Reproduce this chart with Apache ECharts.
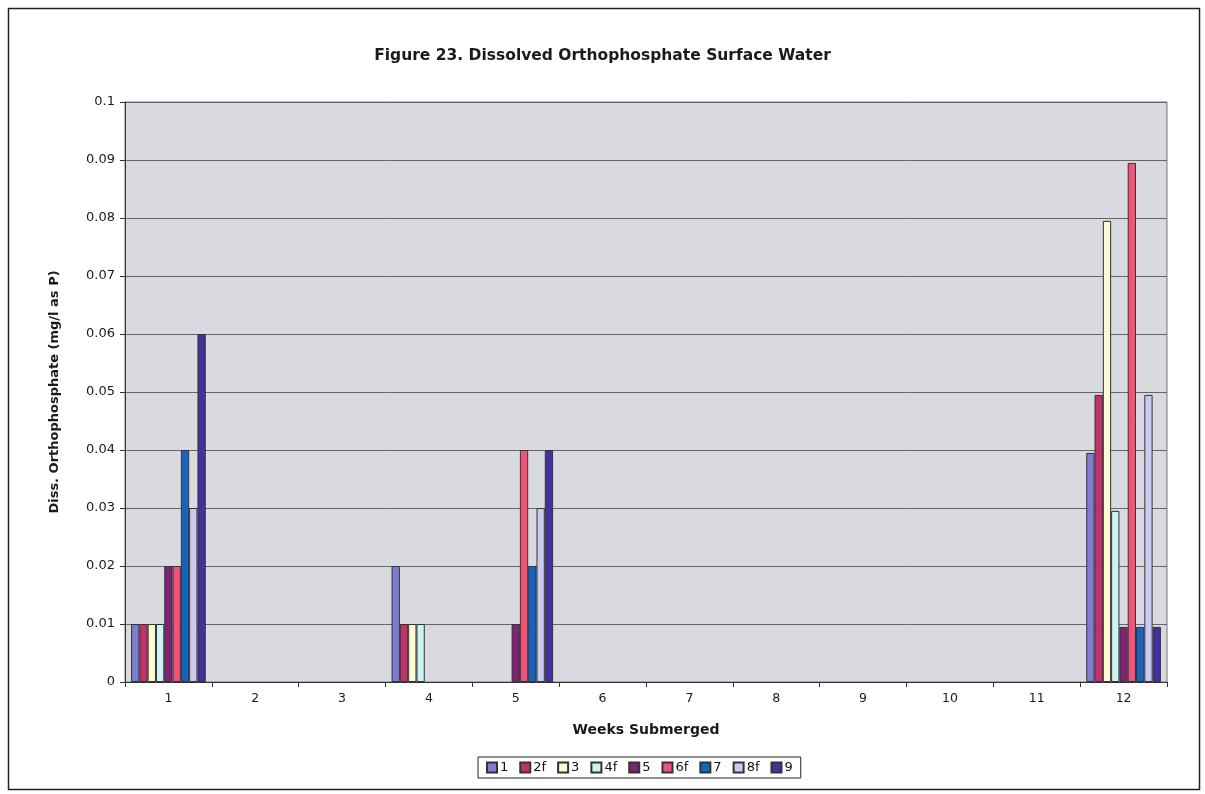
<!DOCTYPE html>
<html><head><meta charset="utf-8">
<script src="https://cdn.jsdelivr.net/npm/echarts@6/dist/echarts.min.js"></script>
<style>html,body{margin:0;padding:0;background:#fff}#c{width:1205px;height:794px}</style>
</head><body><div id="c"></div>
<script>
const weeks = ['1','2','3','4','5','6','7','8','9','10','11','12'];
const seriesNames = ['1','2f','3','4f','5','6f','7','8f','9'];
const s1  = [0.01, null, null, 0.02, null, null, null, null, null, null, null, 0.0395];
const s2f = [0.01, null, null, 0.01, null, null, null, null, null, null, null, 0.0495];
const s3  = [0.01, null, null, 0.01, null, null, null, null, null, null, null, 0.0795];
const s4f = [0.01, null, null, 0.01, null, null, null, null, null, null, null, 0.0295];
const s5  = [0.02, null, null, null, 0.01, null, null, null, null, null, null, 0.0095];
const s6f = [0.02, null, null, null, 0.04, null, null, null, null, null, null, 0.0895];
const s7  = [0.04, null, null, null, 0.02, null, null, null, null, null, null, 0.0095];
const s8f = [0.03, null, null, null, 0.03, null, null, null, null, null, null, 0.0495];
const s9  = [0.06, null, null, null, 0.04, null, null, null, null, null, null, 0.0095];
const allData = [s1, s2f, s3, s4f, s5, s6f, s7, s8f, s9];
const colors = ['#7c7ed4','#c4306c','#fdfbd2','#cdf3f3','#7e2474','#f25278','#1464c0','#cacaf2','#4232a0'];

const FONT = 'DejaVu Sans, Liberation Sans, Arial, sans-serif';
const chart = echarts.init(document.getElementById('c'));
chart.setOption({
  animation: false,
  textStyle: {fontFamily: FONT},
  graphic: [{type:'rect', shape:{x:8.5,y:8.5,width:1191,height:781}, style:{fill:'none', stroke:'#222', lineWidth:1.5}, silent:true, z:-1}],
  title: {text: 'Figure 23. Dissolved Orthophosphate Surface Water', left: 'center', top: 43,
    textStyle: {fontSize: 15.5, fontWeight: 'bold', color: '#1a1a1a', fontFamily: FONT}},
  legend: {data: seriesNames, bottom: 16, left: 478, icon: 'rect', itemWidth: 10, itemHeight: 10, itemGap: 11,
    backgroundColor: '#fff', borderColor: '#222', borderWidth: 1, padding: [4, 8],
    textStyle: {fontSize: 13, color: '#111', padding: [0,0,0,-2], fontFamily: FONT}},
  grid: {left: 125, right: 38, top: 102, bottom: 112, show: true, backgroundColor: '#d9dadf', borderColor: '#777', borderWidth: 1},
  xAxis: {type: 'category', data: weeks, name: 'Weeks Submerged', nameLocation: 'middle', nameGap: 41,
    nameTextStyle: {fontSize: 14, fontWeight: 'bold', color: '#1a1a1a', fontFamily: FONT},
    axisLine: {lineStyle: {color: '#333'}}, axisTick: {show: true, lineStyle: {color: '#333'}, length: 5},
    axisLabel: {fontSize: 12.5, color: '#1a1a1a', margin: 10, fontFamily: FONT}},
  yAxis: {type: 'value', min: 0, max: 0.1, interval: 0.01, name: 'Diss. Orthophosphate (mg/l as P)', nameLocation: 'middle', nameGap: 64,
    nameTextStyle: {fontSize: 13, fontWeight: 'bold', color: '#1a1a1a', fontFamily: FONT},
    axisLine: {show: true, lineStyle: {color: '#333'}}, axisTick: {show: true, length: 5, lineStyle: {color: '#333'}},
    axisLabel: {fontSize: 13, color: '#1a1a1a', margin: 10, fontFamily: FONT, formatter: v => String(parseFloat(v.toFixed(2)))},
    splitLine: {lineStyle: {color: '#666', width: 1}}},
  series: seriesNames.map((n, i) => ({
    name: n, type: 'bar', data: allData[i], barGap: '0%', barCategoryGap: '14%',
    itemStyle: {color: colors[i], borderColor: '#333', borderWidth: 1}
  }))
});
</script></body></html>
